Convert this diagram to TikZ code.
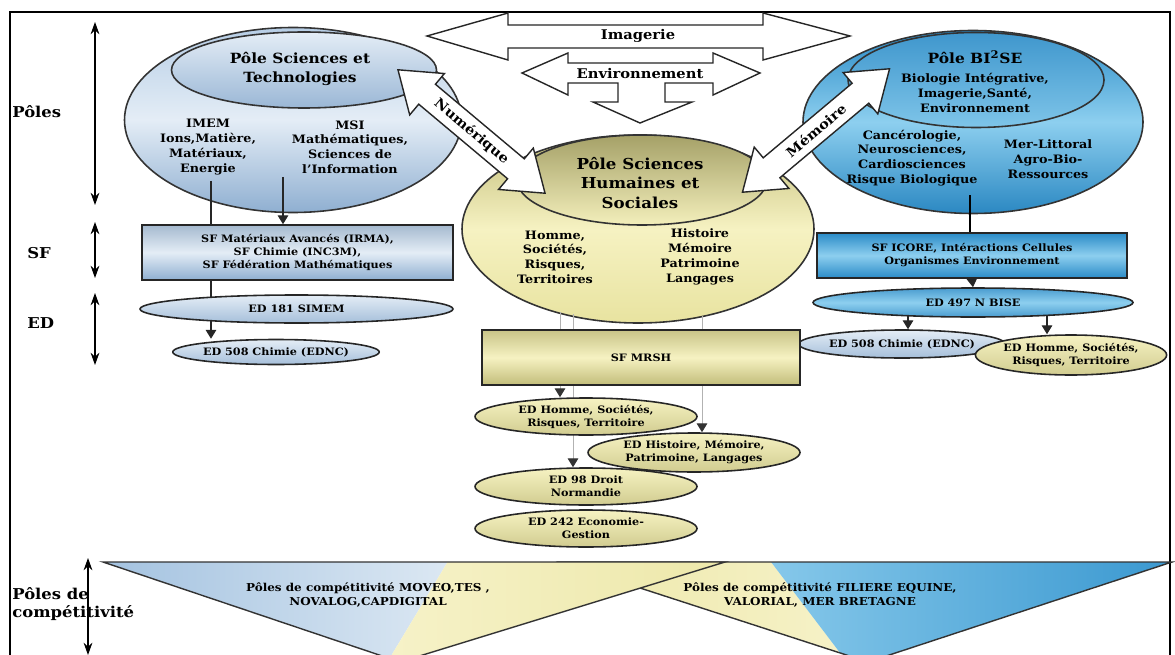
\documentclass[tikz,border=0pt]{standalone}
\usepackage{fontspec}
\setmainfont{DejaVu Serif}[FakeStretch=1.1]
\usetikzlibrary{shapes.geometric, arrows.meta}

\definecolor{stTop}{HTML}{B7CEE6}
\definecolor{stMid}{HTML}{E4EDF6}
\definecolor{stBot}{HTML}{8FAFD1}
\definecolor{biTop}{HTML}{2A8BC7}
\definecolor{biMid}{HTML}{8DCFEF}
\definecolor{biBot}{HTML}{2B88C2}
\definecolor{shTop}{HTML}{C2BD7A}
\definecolor{shMid}{HTML}{F6F2C2}
\definecolor{shBot}{HTML}{E8E3A0}
\definecolor{triBlue}{HTML}{A3C2E0}
\definecolor{triBlueL}{HTML}{DCE8F3}
\definecolor{triYel}{HTML}{EDE8AA}
\definecolor{triYelL}{HTML}{F6F2C8}
\definecolor{triCyan}{HTML}{3A98D0}
\definecolor{triCyanL}{HTML}{86C8EA}

\pgfdeclarelayer{back}
\pgfdeclarelayer{mid}
\pgfsetlayers{back,mid,main}

\def\px{0.02cm}
\newcommand{\fsLbl}{\fontsize{8.5}{10.5}\selectfont\bfseries}
\newcommand{\fsHead}{\fontsize{8}{10.8}\selectfont\bfseries}
\newcommand{\fsPole}{\fontsize{6.6}{8.4}\selectfont\bfseries}
\newcommand{\fsSmall}{\fontsize{5.8}{7.4}\selectfont\bfseries}

% fat double arrow between two poles
\newcommand{\fatarrow}[5]{%
  \begin{scope}[shift={(#1,#2)}, rotate=#3]
    \draw[fatbody] (-96,0) -- (-58,-27) -- (-58,-13) -- (58,-13) -- (58,-27) -- (96,0)
      -- (58,27) -- (58,13) -- (-58,13) -- (-58,27) -- cycle;
    \node[fattxt, rotate=#3] (#5) at (0,0) {#4};
  \end{scope}}

\begin{document}
\begin{tikzpicture}[x=0.02cm, y=-0.02cm,
    lbl/.style={font=\fsLbl, anchor=west, align=left, inner sep=0pt},
    vbar/.style={{Stealth[length=7pt,width=5pt]}-{Stealth[length=7pt,width=5pt]}, line width=0.6pt},
    poleshape/.style={ellipse, draw=black!80, line width=0.9pt, inner sep=0pt},
    poletxt/.style={font=\fsPole, align=center, inner sep=0pt},
    headtxt/.style={font=\fsHead, align=center, inner sep=0pt},
    edshape/.style={ellipse, draw=black!85, line width=0.9pt, inner sep=0pt, font=\fsSmall, align=center},
    sfshape/.style={rectangle, draw=black!85, line width=0.9pt, inner sep=0pt, font=\fsSmall, align=center},
    edblue/.style={top color=stMid, bottom color=stBot!80},
    edyel/.style={top color=shMid, bottom color=shBot!90!black},
    fatbody/.style={draw=black!85, line width=0.8pt, fill=white},
    fattxt/.style={font=\fontsize{7.6}{9}\selectfont\bfseries, inner sep=0pt},
    conn/.style={draw=black!85, line width=0.6pt, -{Triangle[length=5pt,width=6pt]}},
    faint/.style={draw=black!30, line width=0.5pt, -{Triangle[length=5pt,width=6pt,color=black!80]}},
    tritxt/.style={font=\fontsize{6.2}{8}\selectfont\bfseries, align=center, inner sep=0pt},
    triedge/.style={line width=0.8pt, draw=black!80, line join=miter}]

\useasboundingbox (0,0) rectangle (1175,655);
\draw[line width=0.8pt] (10,670) -- (10,12) -- (1170,12) -- (1170,670);

% left column
\node[lbl] (lblPoles) at (12,112) {Pôles};
\node[lbl] (lblSF) at (27,253) {SF};
\node[lbl] (lblED) at (27,323) {ED};
\draw[vbar] (95,22) -- (95,205);
\draw[vbar] (95,222) -- (95,278);
\draw[vbar] (95,293) -- (95,365);

% the three poles
\begin{pgfonlayer}{back}
  \node[poleshape, top color=biTop, bottom color=biBot, middle color=biMid,
        minimum width=340*\px, minimum height=183*\px] (poleBI) at (973,122) {};
  \node[poleshape, top color=biTop!90!white, bottom color=biMid!85!biTop,
        minimum width=256*\px, minimum height=95*\px] (poleBIin) at (976,80) {};
  \node[poleshape, top color=shTop, bottom color=shBot, middle color=shMid,
        minimum width=352*\px, minimum height=188*\px] (poleSH) at (638,229) {};
  \node[poleshape, top color=shTop!85!black, bottom color=shMid!80!shBot,
        minimum width=250*\px, minimum height=90*\px] (poleSHin) at (642,180) {};
  \node[poleshape, top color=stTop, bottom color=stBot, middle color=stMid,
        minimum width=337*\px, minimum height=185*\px] (poleST) at (293,120) {};
  \node[poleshape, top color=stMid, bottom color=stBot!90!white,
        minimum width=265*\px, minimum height=76*\px] (poleSTin) at (304,70) {};
\end{pgfonlayer}

\node[headtxt] (stTitle) at (300,69) {Pôle Sciences et\\Technologies};
\node[poletxt] (imem) at (208,147) {IMEM\\Ions,Matière,\\Matériaux,\\Energie};
\node[poletxt] (msi) at (350,147) {MSI\\Mathématiques,\\Sciences de\\l'Information};

\node[headtxt] (biTitle) at (975,57) {Pôle BI\textsuperscript{2}SE};
\node[poletxt] (biSub) at (975,93) {Biologie Intégrative,\\Imagerie,Santé,\\Environnement};
\node[poletxt] (biLeft) at (912,158) {Cancérologie,\\Neurosciences,\\Cardiosciences\\Risque Biologique};
\node[poletxt] (biRight) at (1048,159) {Mer-Littoral\\Agro-Bio-\\Ressources};

\node[headtxt, font=\fontsize{8.6}{11.3}\selectfont\bfseries] (shTitle) at (640,183) {Pôle Sciences\\Humaines et\\Sociales};
\node[poletxt] (shLeft) at (555,257) {Homme,\\Sociétés,\\Risques,\\Territoires};
\node[poletxt] (shRight) at (700,257) {Histoire\\Mémoire\\Patrimoine\\Langages};

% transversal themes
\draw[fatbody] (427,36) -- (508,13) -- (508,25) -- (763,25) -- (763,13) -- (850,36)
  -- (763,60) -- (763,48) -- (508,48) -- (508,60) -- cycle;
\node[fattxt] (imag) at (638,36) {Imagerie};
\draw[fatbody] (522,73) -- (568,53) -- (568,63) -- (713,63) -- (713,53) -- (760,73)
  -- (713,95) -- (713,83) -- (665,83) -- (665,102) -- (692,102) -- (640,123)
  -- (593,102) -- (618,102) -- (618,83) -- (568,83) -- (568,95) -- cycle;
\node[fattxt] (envir) at (640,74) {Environnement};
\fatarrow{471.5}{131.5}{-40}{Numérique}{numer}
\fatarrow{816}{130.5}{40}{Mémoire}{memo}

% SF and ED, left
\node[sfshape, top color=stTop!90!black, bottom color=stBot, middle color=stMid,
      minimum width=311*\px, minimum height=55*\px] (sfL) at (297.5,252.5)
      {SF Matériaux Avancés (IRMA),\\SF Chimie (INC3M),\\SF Fédération Mathématiques};
\node[edshape, edblue, minimum width=313*\px, minimum height=28*\px] (edL181) at (296.5,309) {ED 181 SIMEM};
\node[edshape, edblue, minimum width=192*\px, minimum height=25*\px] (edL508) at (276,352) {ED 508 Chimie (EDNC)};

% SF and ED, right
\node[sfshape, top color=biTop, bottom color=biTop, middle color=biMid,
      minimum width=310*\px, minimum height=45*\px] (sfR) at (972,255.5)
      {SF ICORE, Intéractions Cellules\\Organismes Environnement};
\node[edshape, top color=biTop!85!white, bottom color=biTop!85!white, middle color=biMid,
      minimum width=320*\px, minimum height=29*\px] (edR497) at (973,302.5) {ED 497 N BISE};
\node[edshape, edblue, minimum width=175*\px, minimum height=28*\px] (edR508) at (902,344) {ED 508 Chimie (EDNC)};
\node[edshape, edyel, minimum width=168*\px, minimum height=40*\px] (edRhst) at (1071,355) {ED Homme, Sociétés,\\Risques, Territoire};

% SF and ED, centre
\node[sfshape, top color=shTop!90!white, bottom color=shTop, middle color=shMid,
      minimum width=318*\px, minimum height=55*\px] (sfM) at (641,357.5) {SF MRSH};
\node[edshape, edyel, minimum width=222*\px, minimum height=37*\px] (edMhst) at (586,416.5) {ED Homme, Sociétés,\\Risques, Territoire};
\node[edshape, edyel, minimum width=212*\px, minimum height=39*\px] (edMhmp) at (694,452.5) {ED Histoire, Mémoire,\\Patrimoine, Langages};
\node[edshape, edyel, minimum width=222*\px, minimum height=37*\px] (edM98) at (586,486.5) {ED 98 Droit\\Normandie};
\node[edshape, edyel, minimum width=222*\px, minimum height=37*\px] (edM242) at (586,528.5) {ED 242 Economie-\\Gestion};

% links
\begin{pgfonlayer}{mid}
  \coordinate (stOutA) at (211,181);
  \coordinate (stOutB) at (283,177);
  \draw[conn] (stOutA) -- (stOutA |- edL508.north);
  \draw[conn] (stOutB) -- (stOutB |- sfL.north);
  \coordinate (biOut) at (970,195);
  \draw[line width=0.6pt] (biOut) -- (biOut |- sfR.north);
  \coordinate (shsA) at (560,312);
  \coordinate (shsB) at (573,314);
  \coordinate (shsC) at (702,316);
  \draw[faint] (shsA) -- (shsA |- edMhst.north);
  \draw[faint] (shsB) -- (shsB |- edM98.north);
  \draw[faint] (shsC) -- (shsC |- edMhmp.north);
\end{pgfonlayer}
\draw[conn] (sfR.south) -- (edR497.north);
\coordinate (bisOutA) at (908,316);
\coordinate (bisOutB) at (1047,316);
\draw[conn] (bisOutA) -- (bisOutA |- edR508.north);
\draw[conn] (bisOutB) -- (bisOutB |- edRhst.north);

% poles de competitivite
\begin{scope}
  \clip (560,562) -- (1172,562) -- (868,662) -- cycle;
  \shade[left color=triYel, right color=triYelL] (555,558) -- (768,558) -- (850,666) -- (555,666) -- cycle;
  \shade[left color=triCyanL, right color=triCyan] (768,558) -- (1175,558) -- (1175,666) -- (850,666) -- cycle;
\end{scope}
\draw[triedge] (560,562) -- (1172,562) -- (868,662) -- cycle;
\begin{scope}
  \clip (103,562) -- (725,562) -- (400,662) -- cycle;
  \shade[left color=triBlue, right color=triBlueL] (100,558) -- (450,558) -- (385,666) -- (100,666) -- cycle;
  \shade[left color=triYelL, right color=triYel] (450,558) -- (730,558) -- (730,666) -- (385,666) -- cycle;
\end{scope}
\draw[triedge] (103,562) -- (725,562) -- (400,662) -- cycle;
\node[tritxt] (compL) at (368,595) {Pôles de compétitivité MOVEO,TES ,\\NOVALOG,CAPDIGITAL};
\node[tritxt] (compR) at (820,595) {Pôles de compétitivité FILIERE EQUINE,\\VALORIAL, MER BRETAGNE};

\node[lbl] (lblComp) at (12,604) {Pôles de\\compétitivité};
\draw[vbar] (88,558) -- (88,655);
\end{tikzpicture}
\end{document}
